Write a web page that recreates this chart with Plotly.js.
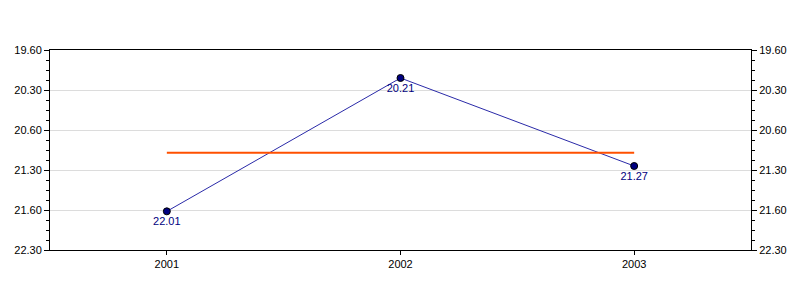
<!DOCTYPE html>
<html>
<head>
<meta charset="utf-8">
<script src="https://cdn.plot.ly/plotly-3.0.1.min.js"></script>
<style>html,body{margin:0;padding:0;background:#fff;}#chart{width:800px;height:300px;}</style>
</head>
<body>
<div id="chart"></div>
<script>
// Data (times in mm.ss format)
const years = ["2001", "2002", "2003"];
const times = ["22.01", "20.21", "21.27"];
const avgTime = "21.17";
const tickLabels = ["19.60", "20.30", "20.60", "21.30", "21.60", "22.30"];

function toSec(s) {
  const p = s.split(".");
  return Number(p[0]) * 60 + Number(p[1]);
}
const secs = times.map(toSec);
const tickVals = tickLabels.map(toSec);
const avgSec = toSec(avgTime);
const yMin = tickVals[0], yMax = tickVals[tickVals.length - 1];

const font = {family: "Liberation Sans, Arial, sans-serif", size: 11, color: "#000"};

const traces = [
  {
    x: years, y: secs, text: times,
    type: "scatter", mode: "lines+markers+text",
    textposition: "bottom center",
    textfont: {family: font.family, size: 11, color: "#000080"},
    line: {color: "#2a2aa8", width: 1},
    marker: {color: "#000080", size: 7, line: {color: "#000", width: 1}},
    showlegend: false
  },
  {
    x: [years[0], years[years.length - 1]],
    y: [avgSec, avgSec],
    type: "scatter", mode: "lines",
    line: {color: "#FF5000", width: 2},
    hoverinfo: "skip", showlegend: false
  },
  {
    x: years, y: secs, yaxis: "y2",
    type: "scatter", mode: "markers",
    marker: {opacity: 0}, hoverinfo: "skip", showlegend: false
  }
];

const yCommon = {
  range: [yMax, yMin],
  autorange: false,
  tickmode: "array",
  tickvals: tickVals,
  ticktext: tickLabels,
  ticks: "outside", ticklen: 5, tickcolor: "#000", tickwidth: 1,
  minor: {ticks: "outside", ticklen: 3, tick0: yMin, dtick: 7.5, tickcolor: "#000", showgrid: false},
  showline: true, linecolor: "#000", linewidth: 1,
  tickfont: font,
  zeroline: false
};

const layout = {
  width: 800, height: 300,
  margin: {l: 50, r: 49, t: 50, b: 50},
  paper_bgcolor: "#fff", plot_bgcolor: "#fff",
  font: font,
  showlegend: false,
  xaxis: {
    type: "category",
    categoryorder: "array",
    categoryarray: years,
    range: [-0.5, years.length - 0.5],
    showgrid: false,
    showline: true, linecolor: "#000", linewidth: 1, mirror: true,
    ticks: "outside", ticklen: 4, tickcolor: "#000",
    tickfont: font,
    zeroline: false
  },
  yaxis: Object.assign({}, yCommon, {side: "left", showgrid: true, gridcolor: "#dcdcdc", gridwidth: 1}),
  yaxis2: Object.assign({}, yCommon, {side: "right", overlaying: "y", showgrid: false})
};

Plotly.newPlot("chart", traces, layout, {staticPlot: true, displayModeBar: false});
</script>
</body>
</html>
